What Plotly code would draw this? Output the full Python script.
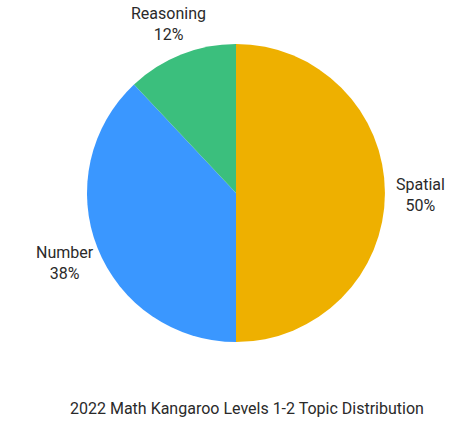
import math
import plotly.graph_objects as go

topics = ["Spatial", "Number", "Reasoning"]
shares = [50, 38, 12]
colors = ["#EEB000", "#3A97FF", "#3BBF7D"]

# figure size and pie geometry in px
W, H = 461, 422
cx, cy, rad = 236, 193, 149
label_r = 1.235 * rad

fig = go.Figure()
fig.add_trace(go.Pie(
    labels=topics,
    values=shares,
    sort=False,
    direction="clockwise",
    rotation=0,
    marker=dict(colors=colors, line=dict(width=0)),
    textinfo="none",
    hoverinfo="label+percent",
    showlegend=False,
    domain=dict(x=[(cx - rad) / W, (cx + rad) / W],
                y=[1 - (cy + rad) / H, 1 - (cy - rad) / H]),
    automargin=False,
))

# outside labels at the middle angle of each slice
total = sum(shares)
start = 0
for name, v in zip(topics, shares):
    mid = (start + v / 2) / total * 2 * math.pi
    start += v
    px = cx + label_r * math.sin(mid)
    py = cy - label_r * math.cos(mid)
    fig.add_annotation(
        text=f"{name}<br>{round(v / total * 100)}%",
        x=px / W, y=1 - py / H,
        xref="paper", yref="paper",
        xanchor="center", yanchor="middle",
        yshift=-2,
        showarrow=False,
        font=dict(family="Roboto", size=16, color="#2a2a2a"),
    )

fig.add_annotation(
    text="2022 Math Kangaroo Levels 1-2 Topic Distribution",
    x=247 / W, y=1 - 408 / H,
    xref="paper", yref="paper",
    xanchor="center", yanchor="middle",
    showarrow=False,
    font=dict(family="Roboto", size=16, color="#2a2a2a"),
)

fig.update_layout(
    width=W,
    height=H,
    margin=dict(l=0, r=0, t=0, b=0),
    paper_bgcolor="white",
    plot_bgcolor="white",
    font=dict(family="Roboto"),
)

# drop the default page margin so the figure fills the window
fig.write_html("out.html", config={"displayModeBar": False},
               post_script="document.body.style.margin='0';")
